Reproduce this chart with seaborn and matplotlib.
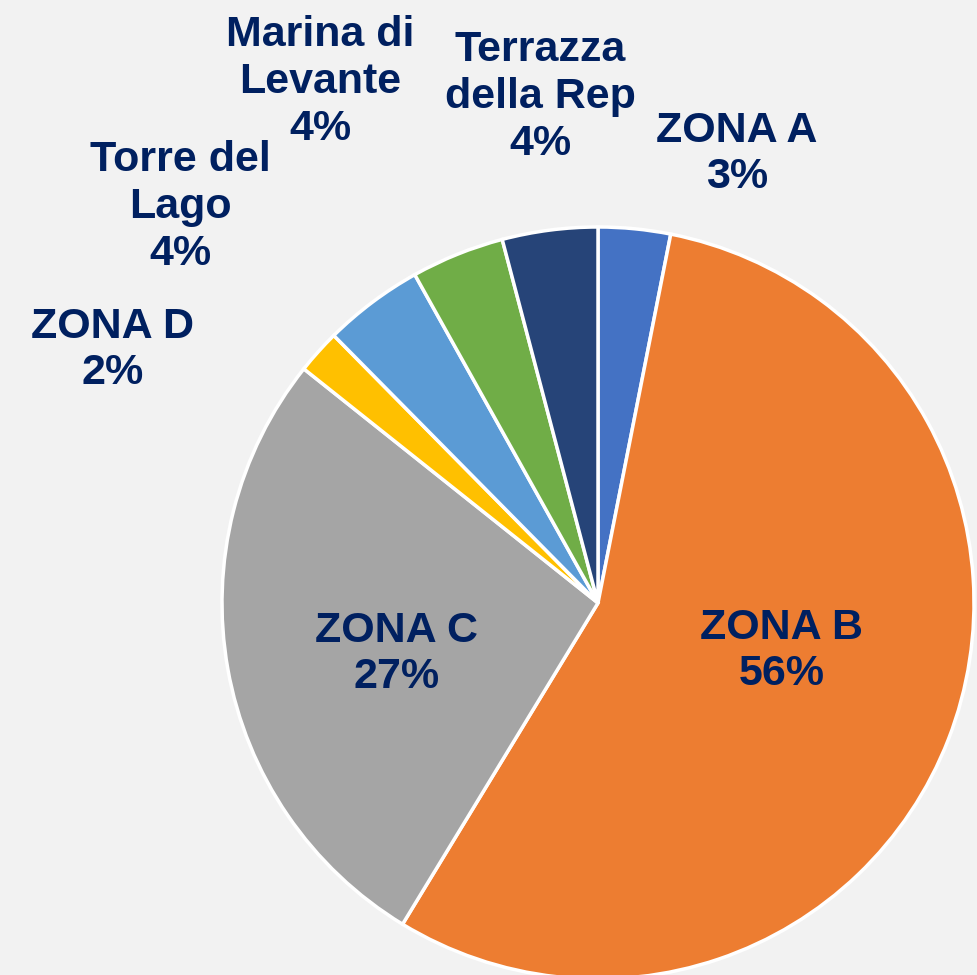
# Pie chart of share by zone
import numpy as np
import pandas as pd
import seaborn as sns

import matplotlib
matplotlib.use('Agg')
import matplotlib.pyplot as plt

# data
zones = ["ZONA A", "ZONA B", "ZONA C", "ZONA D",
         "Torre del\nLago", "Marina di\nLevante", "Terrazza\ndella Rep"]
shares = [3.1, 55.6, 27.0, 1.9, 4.3, 4.0, 4.1]
colors = ["#4472C4", "#ED7D31", "#A5A5A5", "#FFC000",
          "#5B9BD5", "#70AD47", "#264478"]

# label positions in pixels (layout only)
label_px = [(737, 154), (782, 651), (397, 654), (113, 350),
            (180, 207), (320, 82), (540, 97)]

sns.set_theme(style="white")
plt.rcParams['font.family'] = ['Liberation Sans', 'DejaVu Sans']

BG = "#F2F2F2"
TXT = "#002060"

W, H = 978, 975
cx, cy, R = 598, 603, 376

fig = plt.figure(figsize=(W / 100, H / 100), dpi=100, facecolor=BG)
ax = fig.add_axes([(cx - R) / W, (H - cy - R) / H, 2 * R / W, 2 * R / H])
ax.set_facecolor(BG)

ax.pie(shares, colors=colors, startangle=90, counterclock=False,
       radius=1.0, center=(0, 0),
       wedgeprops=dict(edgecolor="white", linewidth=2.5))
ax.set_xlim(-1, 1)
ax.set_ylim(-1, 1)
ax.set_aspect('equal')
ax.axis('off')

for name, val, (px, py) in zip(zones, shares, label_px):
    x = (px - cx) / R
    y = (cy - py) / R
    ax.text(x, y, f"{name}\n{round(val)}%", ha="center", va="center",
            fontsize=31, fontweight="bold", color=TXT, linespacing=1.22)

plt.savefig("out.png", dpi=100, facecolor=BG)
plt.close()
